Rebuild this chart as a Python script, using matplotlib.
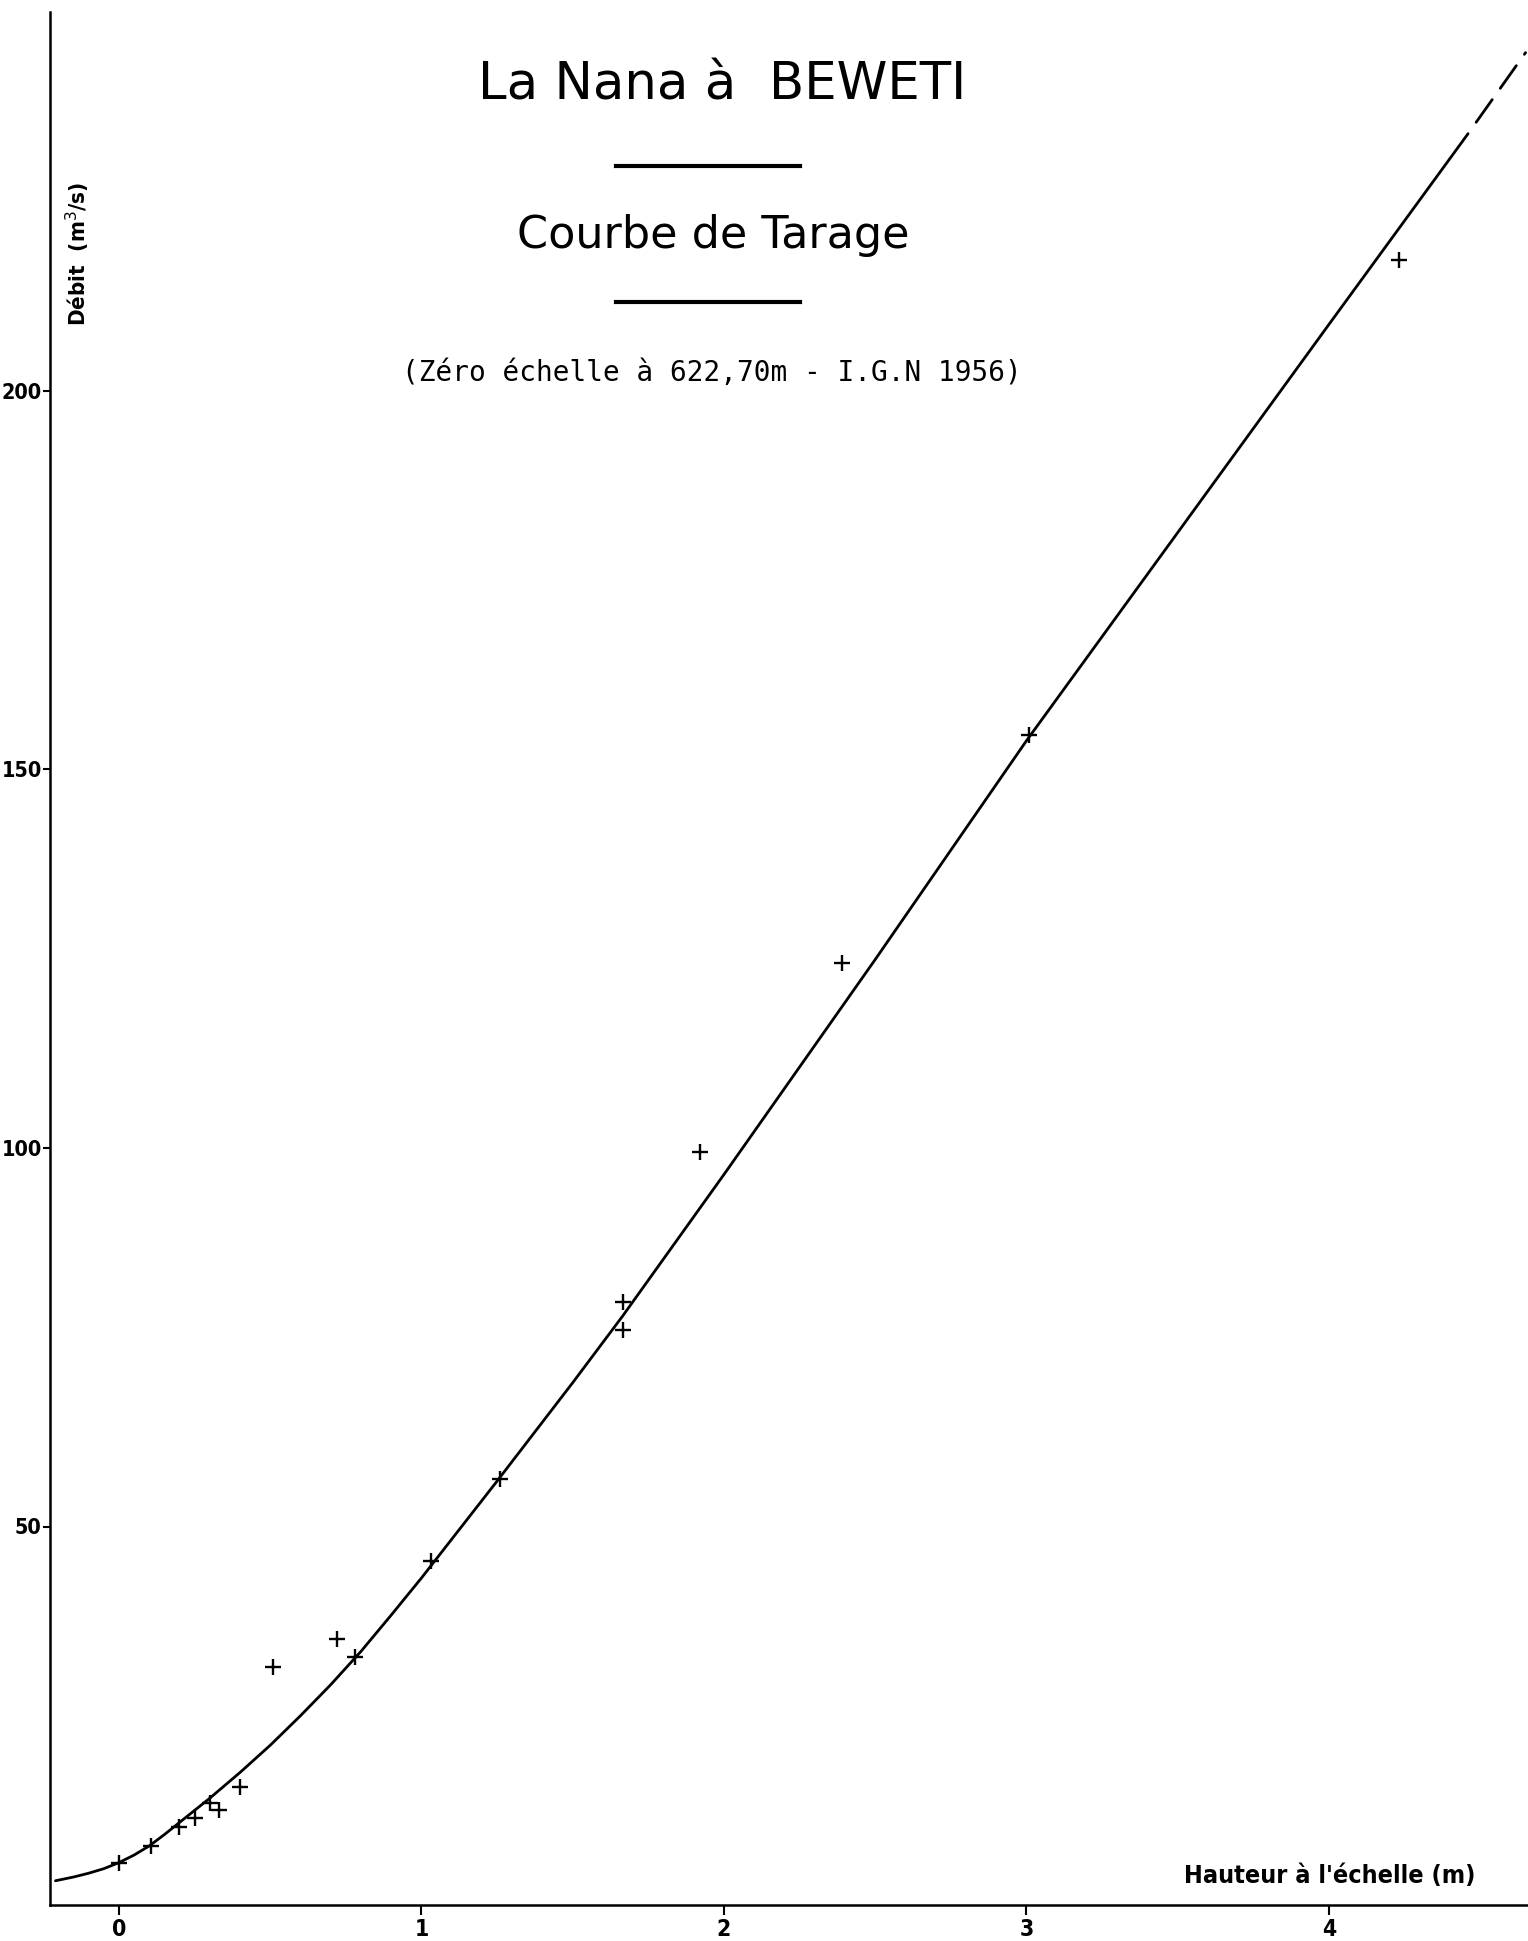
import matplotlib
matplotlib.use("Agg")
import matplotlib.pyplot as plt
from matplotlib.lines import Line2D

# Gauged discharges: stage (m) and discharge (m3/s)
stage_obs = [0.00, 0.105, 0.20, 0.25, 0.30, 0.33, 0.40, 0.51, 0.72, 0.78,
             1.03, 1.26, 1.665, 1.665, 1.92, 2.39, 3.01, 4.23]
flow_obs = [5.5, 7.8, 10.3, 11.5, 13.5, 12.5, 15.6, 31.4, 35.1, 32.8,
            45.4, 56.3, 79.6, 75.9, 99.5, 124.4, 154.6, 217.3]

# Rating curve (drawn line) and its dashed extrapolation
stage_curve = [-0.21, -0.15, -0.10, -0.05, 0.00, 0.05, 0.10, 0.15, 0.20,
               0.25, 0.30, 0.35, 0.40, 0.50, 0.60, 0.70, 0.80, 0.90, 1.00,
               1.25, 1.50, 1.665, 2.00, 2.50, 3.00, 3.50, 4.00, 4.46]
flow_curve = [3.2, 3.7, 4.2, 4.8, 5.6, 6.6, 7.8, 9.3, 10.9,
              12.5, 14.1, 15.8, 17.5, 21.1, 25.0, 29.1, 33.5, 38.3, 43.2,
              56.0, 69.0, 77.8, 96.5, 124.9, 153.8, 181.3, 208.8, 234.0]
stage_extra = [4.46, 4.65]
flow_extra = [234.0, 244.7]

x_ticks = [0, 1, 2, 3, 4]
x_ticklabels = ["0", "1", "2", "3", "4"]
y_ticks = [50, 100, 150, 200]
y_ticklabels = ["50", "100", "150", "200"]

W, H = 1528, 1941
fig = plt.figure(figsize=(W / 100, H / 100), dpi=100)
fig.patch.set_facecolor("white")

ax = fig.add_axes([50 / W, 36 / H, 1478 / W, 1892.5 / H])
ax.set_xlim(-0.228, 4.658)
ax.set_ylim(0, 250)
for side in ("top", "right"):
    ax.spines[side].set_visible(False)
for side in ("left", "bottom"):
    ax.spines[side].set_linewidth(1.8)
    ax.spines[side].set_color("black")

label_font = dict(fontfamily="DejaVu Sans", fontweight="bold",
                  fontstretch="condensed")

ax.set_xticks(x_ticks)
ax.set_xticklabels(x_ticklabels, fontsize=16.5, **label_font)
ax.set_yticks(y_ticks)
ax.set_yticklabels(y_ticklabels, fontsize=15.5, **label_font)
ax.tick_params(axis="x", direction="out", length=7, width=1.5, pad=2)
ax.tick_params(axis="y", direction="out", length=5, width=1.5, pad=1)

ax.plot(stage_curve, flow_curve, color="black", lw=2.0, solid_capstyle="round")
ax.plot(stage_extra, flow_extra, color="black", lw=2.0,
        linestyle=(10, (10, 5)), dash_capstyle="round")
ax.plot(stage_obs, flow_obs, linestyle="none", marker="+", color="black",
        markersize=11, markeredgewidth=1.7)

# Axis captions
fig.text(78 / W, 1 - 254 / H, "Débit  (m$^3$/s)", rotation=90,
         ha="center", va="center", fontsize=16, **label_font)
fig.text(1330 / W, 1 - 1876 / H, "Hauteur à l'échelle (m)",
         ha="center", va="center", fontsize=18, **label_font)

# Title block
fig.text(722 / W, 1 - 99 / H, "La Nana à  BEWETI", ha="center",
         va="baseline", fontsize=37, fontfamily="DejaVu Sans")
fig.text(713 / W, 1 - 248 / H, "Courbe de Tarage", ha="center",
         va="baseline", fontsize=32, fontfamily="DejaVu Sans")
fig.text(712 / W, 1 - 381 / H, "(Zéro échelle à 622,70m - I.G.N 1956)",
         ha="center", va="baseline", fontsize=20,
         fontfamily="DejaVu Sans Mono")
for y in (166, 302):
    fig.add_artist(Line2D([616 / W, 800 / W], [1 - y / H, 1 - y / H],
                          color="black", lw=3))

fig.savefig("out.png", dpi=100, facecolor="white")
